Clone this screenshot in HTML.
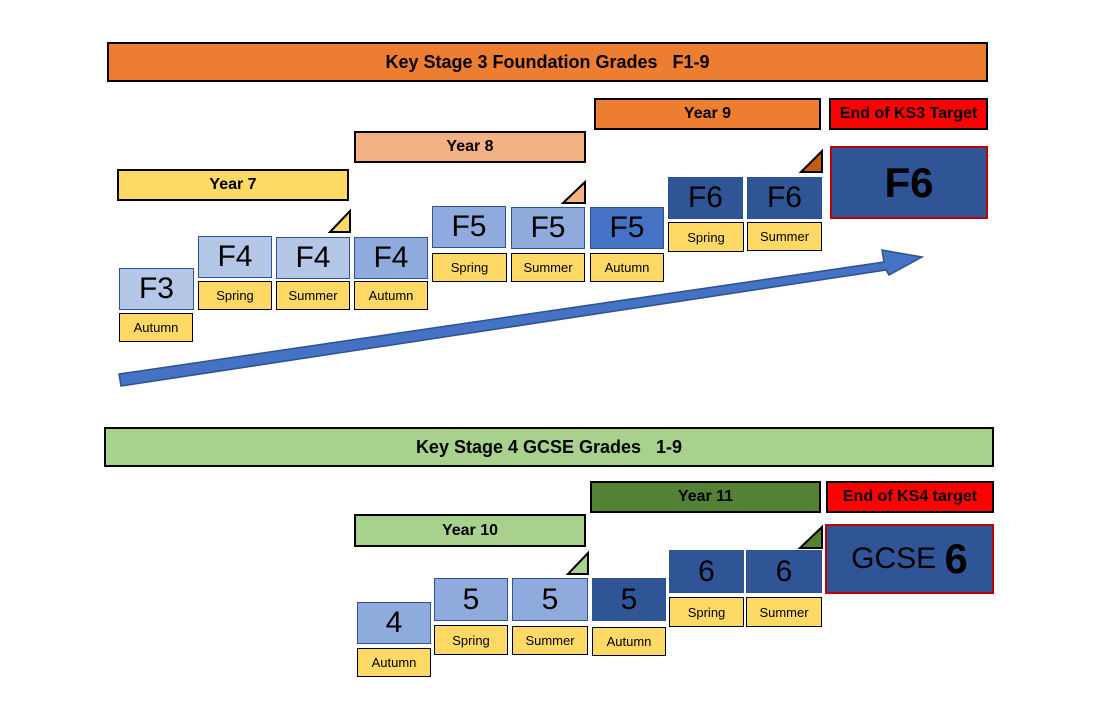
<!DOCTYPE html>
<html><head><meta charset="utf-8"><style>
body{margin:0;width:1100px;height:720px;background:#fff;position:relative;overflow:hidden;font-family:"Liberation Sans",sans-serif}
.b{position:absolute;box-sizing:border-box;display:flex;align-items:center;justify-content:center;color:#000}
.h{border:2px solid #000;font-weight:bold;font-size:16px}
.g{border:1px solid #2F528F;font-size:30px}
.s{background:#FFD966;border:1.5px solid #000;font-size:13px}
svg{position:absolute;left:0;top:0}
</style></head><body>
<svg width="1100" height="720">
<polygon points="119,374 884,262 882,250 922,257 889,275 886,270 121,386" fill="#4472C4" stroke="#2F528F" stroke-width="1.5"/>
<polygon points="330,232 350,211 350,232" fill="#FFD966" stroke="#000" stroke-width="2"/>
<polygon points="563,203 585,182 585,203" fill="#F4B183" stroke="#000" stroke-width="2"/>
<polygon points="801,172 822,151 822,172" fill="#C55A11" stroke="#000" stroke-width="2"/>
<polygon points="568,574 588,553 588,574" fill="#A9D18E" stroke="#000" stroke-width="2"/>
<polygon points="800,548 822,527 822,548" fill="#548235" stroke="#000" stroke-width="2"/>
</svg>
<div class="b h" style="left:107px;top:42px;width:881px;height:40px;background:#ED7D31;font-size:18px">Key Stage 3 Foundation Grades&nbsp;&nbsp;&nbsp;F1-9</div>
<div class="b h" style="left:594px;top:98px;width:227px;height:32px;background:#ED7D31">Year 9</div>
<div class="b h" style="left:829px;top:98px;width:159px;height:32px;background:#FF0000">End of KS3 Target</div>
<div class="b h" style="left:354px;top:131px;width:232px;height:32px;background:#F4B183">Year 8</div>
<div class="b h" style="left:117px;top:169px;width:232px;height:32px;background:#FFD966">Year 7</div>

<div class="b g" style="left:119px;top:268px;width:75px;height:42px;background:#B4C7E7">F3</div>
<div class="b s" style="left:119px;top:313px;width:74px;height:29px">Autumn</div>
<div class="b g" style="left:198px;top:236px;width:74px;height:42px;background:#B4C7E7">F4</div>
<div class="b s" style="left:198px;top:281px;width:74px;height:29px">Spring</div>
<div class="b g" style="left:276px;top:237px;width:74px;height:42px;background:#B4C7E7">F4</div>
<div class="b s" style="left:276px;top:281px;width:74px;height:29px">Summer</div>
<div class="b g" style="left:354px;top:237px;width:74px;height:42px;background:#8FAADC">F4</div>
<div class="b s" style="left:354px;top:281px;width:74px;height:29px">Autumn</div>
<div class="b g" style="left:432px;top:206px;width:74px;height:42px;background:#8FAADC">F5</div>
<div class="b s" style="left:432px;top:253px;width:75px;height:29px">Spring</div>
<div class="b g" style="left:511px;top:207px;width:74px;height:42px;background:#8FAADC">F5</div>
<div class="b s" style="left:511px;top:253px;width:74px;height:29px">Summer</div>
<div class="b g" style="left:590px;top:207px;width:74px;height:42px;background:#4472C4">F5</div>
<div class="b s" style="left:590px;top:253px;width:74px;height:29px">Autumn</div>
<div class="b g" style="left:668px;top:177px;width:75px;height:42px;background:#2F5597">F6</div>
<div class="b s" style="left:668px;top:222px;width:76px;height:30px">Spring</div>
<div class="b g" style="left:747px;top:177px;width:75px;height:42px;background:#2F5597">F6</div>
<div class="b s" style="left:747px;top:222px;width:75px;height:29px">Summer</div>
<div class="b" style="left:830px;top:146px;width:158px;height:73px;background:#2F5597;border:2px solid #C00000;font-size:42px;font-weight:bold">F6</div>

<div class="b h" style="left:104px;top:427px;width:890px;height:40px;background:#A9D18E;font-size:18px">Key Stage 4 GCSE Grades&nbsp;&nbsp;&nbsp;1-9</div>
<div class="b h" style="left:590px;top:481px;width:231px;height:32px;background:#548235">Year 11</div>
<div class="b h" style="left:826px;top:481px;width:168px;height:32px;background:#FF0000">End of KS4 target</div>
<div class="b h" style="left:354px;top:514px;width:232px;height:33px;background:#A9D18E">Year 10</div>

<div class="b g" style="left:357px;top:602px;width:74px;height:42px;background:#8FAADC">4</div>
<div class="b s" style="left:357px;top:648px;width:74px;height:29px">Autumn</div>
<div class="b g" style="left:434px;top:578px;width:74px;height:43px;background:#8FAADC">5</div>
<div class="b s" style="left:434px;top:625px;width:74px;height:30px">Spring</div>
<div class="b g" style="left:512px;top:578px;width:76px;height:43px;background:#8FAADC">5</div>
<div class="b s" style="left:512px;top:626px;width:76px;height:29px">Summer</div>
<div class="b g" style="left:592px;top:578px;width:74px;height:43px;background:#2F5597">5</div>
<div class="b s" style="left:592px;top:627px;width:74px;height:29px">Autumn</div>
<div class="b g" style="left:669px;top:550px;width:75px;height:43px;background:#2F5597">6</div>
<div class="b s" style="left:669px;top:597px;width:75px;height:30px">Spring</div>
<div class="b g" style="left:746px;top:550px;width:76px;height:43px;background:#2F5597">6</div>
<div class="b s" style="left:746px;top:597px;width:76px;height:30px">Summer</div>
<div class="b" style="left:825px;top:524px;width:169px;height:70px;background:#2F5597;border:2px solid #C00000;font-size:30px">GCSE&nbsp;<b style="font-size:42px">6</b></div>
</body></html>
